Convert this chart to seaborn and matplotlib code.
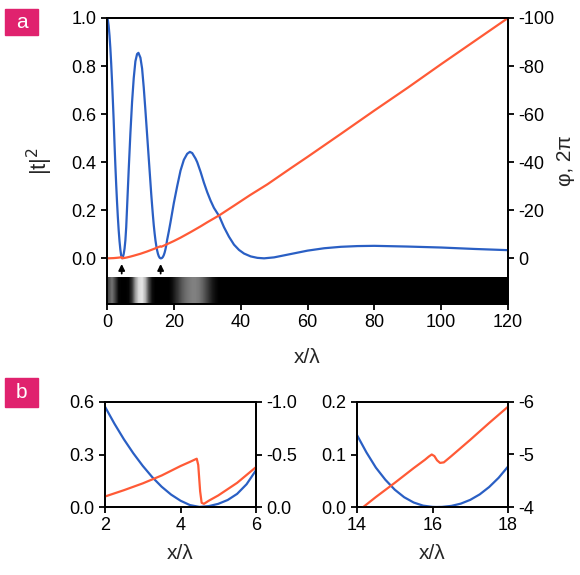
import matplotlib
matplotlib.use('Agg')
import matplotlib.pyplot as plt
import seaborn as sns
import numpy as np
from matplotlib.patches import Rectangle
from matplotlib.ticker import FormatStrFormatter

# transmission |t|^2 (denser where panel b zooms in)
t_x = [0, 0.25, 0.5, 0.75, 1, 1.25, 1.5, 1.75, 2, 2.25, 2.5, 2.75, 3, 3.25, 3.5, 3.75,
       4, 4.25, 4.5, 4.75, 5, 5.25, 5.5, 5.75, 6, 6.25, 6.5, 7, 7.5, 8, 8.5, 9, 9.4, 10,
       10.5, 11, 11.5, 12, 12.5, 13, 13.25, 13.5, 13.75, 14, 14.25, 14.5, 14.75, 15,
       15.25, 15.5, 15.75, 16, 16.1, 16.25, 16.5, 16.75, 17, 17.25, 17.5, 17.75, 18,
       18.5, 19, 20, 21, 22, 23, 24, 24.8, 25.5, 26.5, 27, 28, 29, 30, 31, 32, 33.6, 35,
       36.5, 38, 39.5, 41, 43, 45, 47, 50, 55, 60, 65, 70, 75, 80, 90, 100, 110, 120]
t_sq = [1.0, 0.992, 0.967, 0.927, 0.875, 0.812, 0.739, 0.658, 0.573, 0.476, 0.387,
        0.307, 0.235, 0.171, 0.116, 0.071, 0.036, 0.011, 0.0005, 0.005, 0.018, 0.04,
        0.075, 0.13, 0.21, 0.29, 0.37, 0.52, 0.65, 0.75, 0.82, 0.85, 0.855, 0.835, 0.79,
        0.71, 0.615, 0.515, 0.415, 0.315, 0.265, 0.22, 0.177, 0.137, 0.104, 0.075, 0.052,
        0.033, 0.0186, 0.0086, 0.0026, 0.0002, 0.0, 0.0002, 0.0021, 0.0064, 0.0136,
        0.024, 0.038, 0.0555, 0.077, 0.112, 0.15, 0.23, 0.30, 0.365, 0.41, 0.435, 0.443,
        0.438, 0.415, 0.40, 0.36, 0.315, 0.275, 0.24, 0.21, 0.175, 0.13, 0.09, 0.057,
        0.035, 0.02, 0.008, 0.002, 0.0, 0.004, 0.018, 0.032, 0.042, 0.048, 0.051, 0.052,
        0.049, 0.045, 0.039, 0.034]

# phase (units of 2pi)
ph_x = [0, 1, 2, 2.5, 3, 3.5, 4, 4.25, 4.43, 4.47, 4.52, 4.56, 4.62, 4.75, 5, 5.5, 6,
        7, 8, 10, 12, 14, 14.5, 15, 15.5, 15.8, 15.9, 15.98, 16.05, 16.12, 16.2, 16.3,
        16.5, 17, 17.5, 18, 20, 22, 25, 28, 30, 33.6, 38, 42.8, 48, 55, 60, 70, 80, 90,
        100, 110, 120]
phase = [0, -0.04, -0.10, -0.16, -0.225, -0.30, -0.39, -0.43, -0.46, -0.40, -0.15,
         -0.04, -0.03, -0.06, -0.11, -0.23, -0.38, -0.72, -1.1, -1.9, -2.85, -3.905,
         -4.19, -4.46, -4.74, -4.90, -4.96, -5.0, -4.97, -4.89, -4.84, -4.85, -4.97,
         -5.28, -5.6, -5.91, -7.2, -8.6, -10.9, -13.3, -15.0, -17.9, -21.9, -26.3, -30.8,
         -37.5, -42.2, -51.8, -61.5, -71.0, -80.8, -90.4, -100]

# grey level of the strip under panel a, one value per unit of x from 0
band = [0.3, 0.45, 0.25, 0.02, 0.0, 0.0, 0.02, 0.2, 0.6, 0.85, 0.9, 0.7, 0.3, 0.05,
        0.0, 0.0, 0.0, 0.0, 0.0, 0.05, 0.15, 0.25, 0.35, 0.42, 0.47, 0.5, 0.5, 0.47,
        0.4, 0.3, 0.2, 0.1, 0.04]
band = band + [0.0] * (120 - len(band))

arrow_x = [4.4, 16.05]

blue = '#2a5fc4'
red = '#ff5a36'
pink = '#e0226e'

sns.set_style('ticks')
plt.rcParams['font.family'] = ['Liberation Sans', 'DejaVu Sans']
plt.rcParams['axes.unicode_minus'] = False
plt.rcParams['axes.linewidth'] = 1.3
for k in ['xtick', 'ytick']:
    plt.rcParams[k + '.major.width'] = 1.3
    plt.rcParams[k + '.major.size'] = 4
    plt.rcParams[k + '.labelsize'] = 13
    plt.rcParams[k + '.color'] = 'black'
plt.rcParams['axes.edgecolor'] = 'black'

W, H = 580, 575
fig = plt.figure(figsize=(5.8, 5.75), dpi=100)

def box(l, r, t, b):
    return [l / W, 1 - b / H, (r - l) / W, (b - t) / H]

# ---- panel a
ax = fig.add_axes(box(107, 508, 18, 304))
ax.imshow(np.array([band]), cmap='gray', vmin=0, vmax=1, aspect='auto',
          extent=(0, 120, -0.19, -0.079), interpolation='bilinear', zorder=1)
sns.lineplot(x=t_x, y=t_sq, ax=ax, color=blue, lw=1.6, zorder=3)
ax.set_xlim(0, 120)
ax.set_ylim(-0.19, 1.0)
ax.set_xticks(range(0, 121, 20))
ax.set_yticks(np.arange(0, 1.01, 0.2))
ax.yaxis.set_major_formatter(FormatStrFormatter('%.1f'))
ax.set_xlabel('x/λ', fontsize=15, labelpad=12)
ax.set_ylabel('|t|$^2$', fontsize=16, labelpad=12)
for xa in arrow_x:
    ax.annotate('', xy=(xa, -0.012), xytext=(xa, -0.075),
                arrowprops=dict(arrowstyle='-|>', color='black', lw=1.3, mutation_scale=9))
ax2 = ax.twinx()
sns.lineplot(x=ph_x, y=phase, ax=ax2, color=red, lw=1.6)
ax2.set_ylim(19, -100)
ax2.set_yticks(range(0, -101, -20))
ax2.set_ylabel('φ, 2π', fontsize=15, labelpad=1)

# ---- panel b
zooms = [((105, 256), (2, 6), [2, 4, 6], (0, 0.6), [0, 0.3, 0.6], (0, -1.0), [0, -0.5, -1.0], '%.1f'),
         ((357, 508), (14, 18), [14, 16, 18], (0, 0.2), [0, 0.1, 0.2], (-4, -6), [-4, -5, -6], '%d')]
for (l, r), xl, xt, yl, yt, yl2, yt2, fmt in zooms:
    bx = fig.add_axes(box(l, r, 402, 507))
    sns.lineplot(x=t_x, y=t_sq, ax=bx, color=blue, lw=1.6)
    bx.set_xlim(*xl)
    bx.set_ylim(*yl)
    bx.set_xticks(xt)
    bx.set_yticks(yt)
    bx.yaxis.set_major_formatter(FormatStrFormatter('%.1f'))
    bx.set_xlabel('x/λ', fontsize=15, labelpad=7)
    bx2 = bx.twinx()
    sns.lineplot(x=ph_x, y=phase, ax=bx2, color=red, lw=1.6)
    bx2.set_ylim(*yl2)
    bx2.set_yticks(yt2)
    bx2.yaxis.set_major_formatter(FormatStrFormatter(fmt))
    bx2.set_ylabel('')

# panel tags
for letter, top, bot in [('a', 9, 35), ('b', 378, 407)]:
    fig.patches.append(Rectangle((5 / W, 1 - bot / H), 33 / W, (bot - top) / H,
                                 transform=fig.transFigure, color=pink, zorder=5))
    fig.text(21.5 / W, 1 - (top + bot) / 2 / H, letter, color='white', fontsize=15,
             ha='center', va='center', zorder=6)

fig.savefig('out.png', dpi=100)
